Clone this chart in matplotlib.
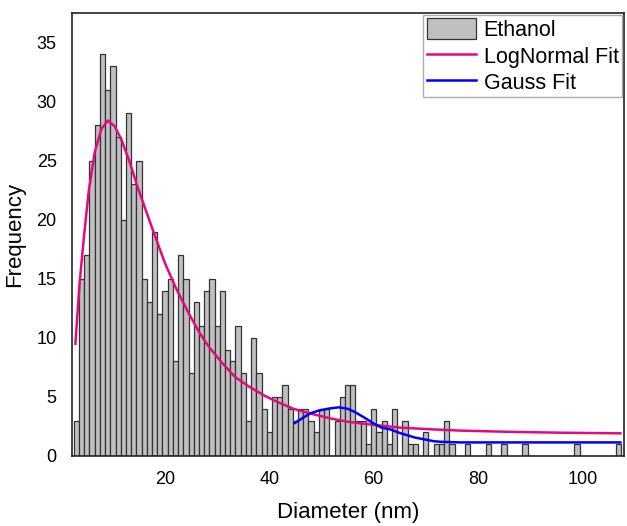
import numpy as np
import matplotlib
matplotlib.use('Agg')
import matplotlib.pyplot as plt

plt.rcParams['font.family'] = ['Liberation Sans', 'DejaVu Sans']

# histogram counts, 1 nm bins centred on integer diameters
diam = list(range(3, 76)) + [78, 82, 85, 89, 99, 107]
counts = [3, 15, 17, 25, 28, 34, 31, 33, 27, 20, 29, 23, 25, 15, 13, 19, 12, 14,
          15, 8, 17, 15, 7, 13, 11, 14, 15, 11, 14, 9, 8, 11, 7, 3, 10, 7, 4, 2,
          5, 5, 6, 4, 3, 4, 4, 3, 2, 4, 4, 0, 3, 5, 6, 6, 3, 3, 1, 4, 2, 3, 1, 4,
          0, 3, 1, 1, 0, 2, 0, 1, 1, 3, 1] + [1, 1, 1, 1, 1, 1]

# fit curves
logn_x = [2.8, 3.6, 4.45, 5.35, 6.5, 7.8, 9.06, 10.35, 11.6, 13.2, 14.7, 17.75,
          20.0, 22.2, 24.5, 26.5, 28.3, 30.9, 33.4, 36.0, 39.1, 41.4, 44.6,
          47.8, 51.5, 55.0, 58.7, 65.1, 71.5, 76.6, 85.6, 96.0, 107.3]
logn_y = [9.5, 14.6, 18.6, 22.4, 25.7, 27.7, 28.4, 27.9, 26.8, 24.9, 22.8, 19.0,
          16.3, 14.1, 12.1, 10.5, 9.3, 7.9, 6.7, 5.9, 5.1, 4.6, 4.0,
          3.6, 3.2, 2.9, 2.7, 2.4, 2.25, 2.15, 2.05, 1.97, 1.92]
gauss_x = [44.9, 46.5, 47.8, 49.5, 51.5, 53.3, 55.0, 56.5, 58.4, 60.0, 61.5,
           63.2, 65.0, 66.5, 68.0, 69.6, 71.5, 73.0, 76.6, 85.0, 107.3]
gauss_y = [2.8, 3.25, 3.6, 3.85, 4.02, 4.12, 4.0, 3.7, 3.2, 2.75, 2.4,
           2.25, 1.95, 1.75, 1.55, 1.42, 1.25, 1.2, 1.15, 1.15, 1.15]

fsize_tick = 13
fsize_label = 16

fig = plt.figure(figsize=(6.27, 5.26), dpi=100)
ax = fig.add_axes([72/627, 1-456/526, (624-72)/627, (456-13)/526])

h_bar = ax.bar(diam, counts, width=1.0, color='#c0c0c0', edgecolor='#333333',
               linewidth=0.9, label='Ethanol', zorder=1)
h_ln, = ax.plot(logn_x, logn_y, color='#e5097f', lw=1.8, label='LogNormal Fit', zorder=3)
h_ga, = ax.plot(gauss_x, gauss_y, color='#0000ff', lw=1.8, label='Gauss Fit', zorder=3)

ax.set_xlim(2.15, 108)
ax.set_ylim(0, 37.5)
ax.set_xticks([20, 40, 60, 80, 100])
ax.set_yticks(np.arange(0, 36, 5))
ax.tick_params(length=0, labelsize=fsize_tick, pad=11)
for sp in ax.spines.values():
    sp.set_linewidth(1.2)
    sp.set_color('#222222')

ax.set_xlabel('Diameter (nm)', fontsize=fsize_label, labelpad=10)
ax.set_ylabel('Frequency', fontsize=fsize_label, labelpad=8)

leg = ax.legend([h_bar, h_ln, h_ga], ['Ethanol', 'LogNormal Fit', 'Gauss Fit'],
                loc='upper right', fontsize=15.5, frameon=True, fancybox=False,
                edgecolor='#999999', borderaxespad=0.1, borderpad=0.15,
                handlelength=2.3, handleheight=1.1, handletextpad=0.35,
                labelspacing=0.18)
leg.get_frame().set_linewidth(1.0)

fig.savefig('out.png', dpi=100)
